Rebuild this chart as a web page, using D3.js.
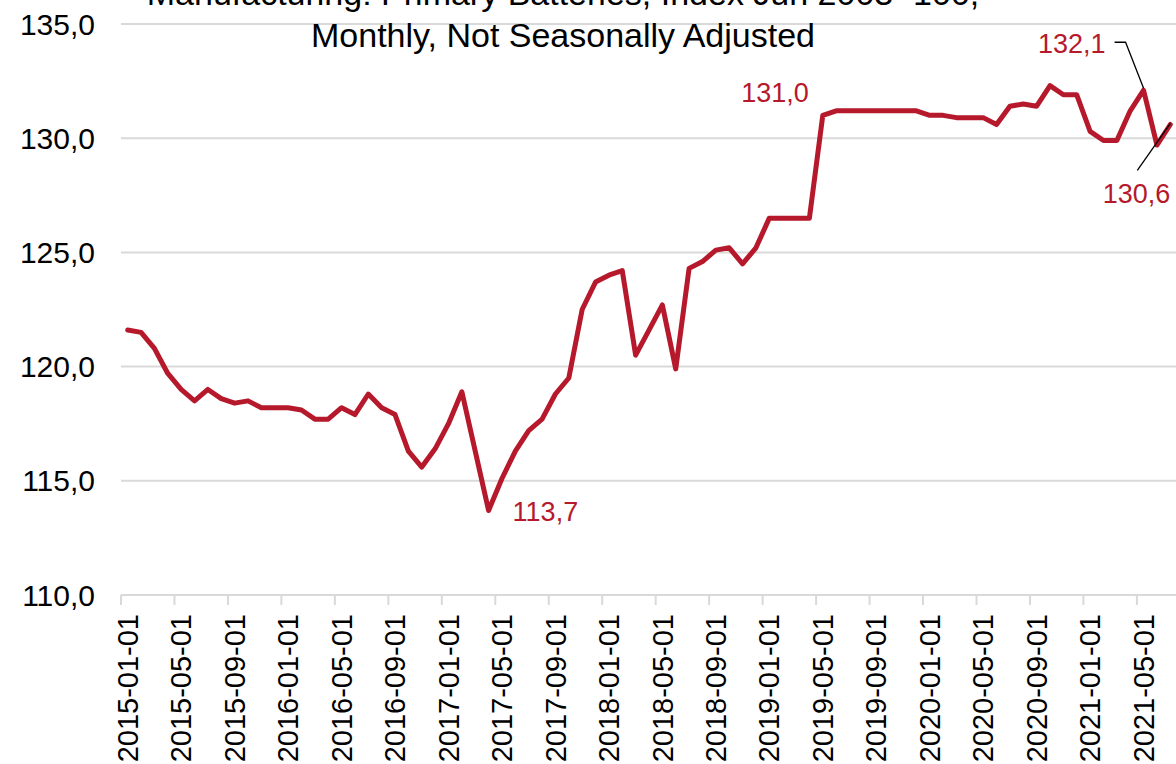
<!DOCTYPE html>
<html>
<head>
<meta charset="utf-8">
<script src="https://cdn.jsdelivr.net/npm/d3@7"></script>
<style>
  body { margin: 0; background: #fff; }
  svg { display: block; font-family: "Liberation Sans", Arial, sans-serif; }
</style>
</head>
<body>
<svg id="chart" width="1176" height="764"></svg>
<script>
// monthly index values, 2015-01 .. 2021-07
const values = [
  121.6, 121.5, 120.8, 119.7, 119.0, 118.5, 119.0, 118.6, 118.4, 118.5, 118.2, 118.2,
  118.2, 118.1, 117.7, 117.7, 118.2, 117.9, 118.8, 118.2, 117.9, 116.3, 115.6, 116.4,
  117.5, 118.9, 116.3, 113.7, 115.1, 116.3, 117.2, 117.7, 118.8, 119.5, 122.5, 123.7,
  124.0, 124.2, 120.5, 121.6, 122.7, 119.9, 124.3, 124.6, 125.1, 125.2, 124.5, 125.2,
  126.5, 126.5, 126.5, 126.5, 131.0, 131.2, 131.2, 131.2, 131.2, 131.2, 131.2, 131.2,
  131.0, 131.0, 130.9, 130.9, 130.9, 130.6, 131.4, 131.5, 131.4, 132.3, 131.9, 131.9,
  130.3, 129.9, 129.9, 131.2, 132.1, 129.7, 130.6
];
const fmtDate = d3.utcFormat("%Y-%m-%d");
const dates = d3.utcMonth.range(new Date(Date.UTC(2015, 0, 1)), new Date(Date.UTC(2021, 7, 1))).map(fmtDate);
const yTicks = [110, 115, 120, 125, 130, 135];
const titleLines = ["Manufacturing: Primary Batteries, Index Jun 2003=100,", "Monthly, Not Seasonally Adjusted"];
const labeled = ["2017-04-01", "2019-05-01", "2021-05-01", "2021-07-01"];

const data = dates.map((d, i) => ({ date: d, value: values[i] }));
const red = "#b5192b";
const grid = "#d9d9d9";

const svg = d3.select("#chart");
const plotL = 121, plotR = 1177, plotT = 24, plotB = 595;

const x = d3.scaleBand().domain(dates).range([plotL, plotR]);
const y = d3.scaleLinear().domain([110, 135]).range([plotB, plotT]);
const cx = d => x(d) + x.bandwidth() / 2;

const locale = d3.formatLocale({ decimal: ",", thousands: ".", grouping: [3], currency: ["", ""] });
const fmt = locale.format(".1f");

// gridlines
svg.append("g").selectAll("line").data(yTicks).join("line")
  .attr("x1", plotL).attr("x2", 1176)
  .attr("y1", d => y(d)).attr("y2", d => y(d))
  .attr("stroke", grid).attr("stroke-width", 2);

// y labels
svg.append("g").selectAll("text").data(yTicks).join("text")
  .attr("x", 95).attr("y", d => y(d)).attr("dy", "0.35em")
  .attr("text-anchor", "end").attr("font-size", 30).attr("fill", "#000")
  .text(d => fmt(d));

// x ticks at category boundaries, every 4 months
const tickDates = dates.filter((d, i) => i % 4 === 0);
svg.append("g").selectAll("line").data(tickDates).join("line")
  .attr("x1", d => x(d)).attr("x2", d => x(d))
  .attr("y1", plotB).attr("y2", plotB + 10)
  .attr("stroke", grid).attr("stroke-width", 2);

svg.append("g").selectAll("text").data(tickDates).join("text")
  .attr("transform", d => `translate(${cx(d)},${plotB + 19}) rotate(-90)`)
  .attr("dy", "0.35em").attr("text-anchor", "end")
  .attr("font-size", 29).attr("fill", "#000")
  .text(d => d);

// line
const line = d3.line().x(d => cx(d.date)).y(d => y(d.value));
svg.append("path").datum(data)
  .attr("d", line).attr("fill", "none")
  .attr("stroke", red).attr("stroke-width", 5)
  .attr("stroke-linejoin", "round").attr("stroke-linecap", "round");

// data labels
const pt = d => data.find(p => p.date === d);
const lab = svg.append("g").attr("fill", red).attr("font-size", 27);

let p = pt(labeled[0]);
lab.append("text").attr("x", cx(p.date) + 24).attr("y", y(p.value) + 11).text(fmt(p.value));

p = pt(labeled[1]);
lab.append("text").attr("x", cx(p.date) - 14).attr("y", y(p.value) - 13)
  .attr("text-anchor", "end").text(fmt(p.value));

p = pt(labeled[2]);
lab.append("text").attr("x", cx(p.date) - 38).attr("y", y(p.value) - 37)
  .attr("text-anchor", "end").text(fmt(p.value));
svg.append("path")
  .attr("d", `M${cx(p.date) - 29},${y(p.value) - 48}H${cx(p.date) - 18}L${cx(p.date)},${y(p.value) - 2}`)
  .attr("fill", "none").attr("stroke", "#000").attr("stroke-width", 1.3);

p = pt(labeled[3]);
lab.append("text").attr("x", cx(p.date)).attr("y", y(p.value) + 79)
  .attr("text-anchor", "end").text(fmt(p.value));
svg.append("line")
  .attr("x1", cx(p.date)).attr("y1", y(p.value) - 1)
  .attr("x2", cx(p.date) - 33).attr("y2", y(p.value) + 46)
  .attr("stroke", "#000").attr("stroke-width", 1.3);

// title (top line is clipped by the frame, as in the reference)
svg.append("g").selectAll("text").data(titleLines).join("text")
  .attr("x", 563).attr("y", (d, i) => 5 + i * 42)
  .attr("text-anchor", "middle").attr("font-size", 34).attr("fill", "#000")
  .text(d => d);
</script>
</body>
</html>
